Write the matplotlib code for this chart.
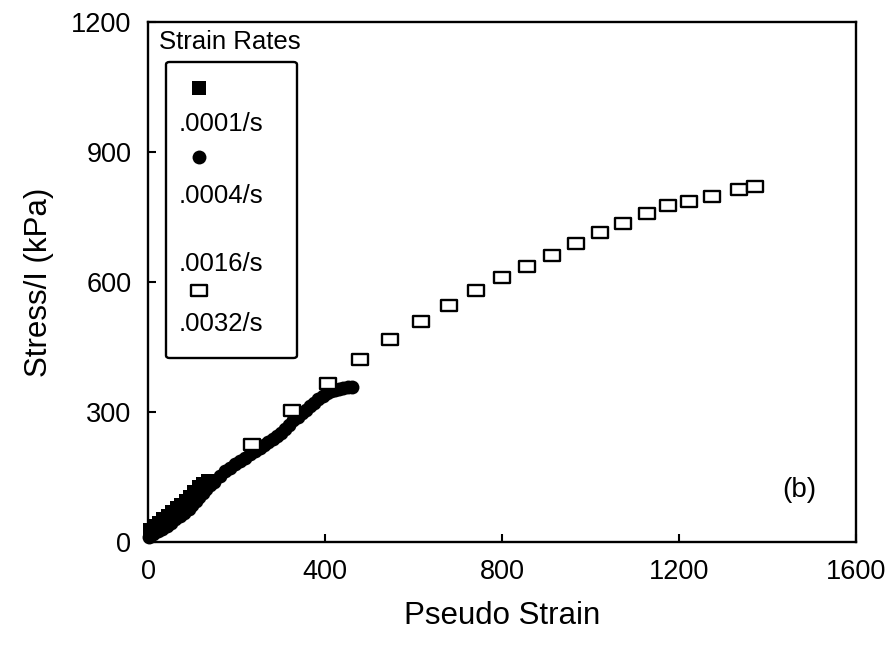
import matplotlib
matplotlib.use("Agg")
import matplotlib.pyplot as plt
from matplotlib.path import Path
from matplotlib.patches import FancyBboxPatch

plt.rcParams['font.family'] = ['Liberation Sans', 'DejaVu Sans']

# ---- data ----
rate_labels = [".0001/s", ".0004/s", ".0016/s", ".0032/s"]

x_0001 = [5, 15, 25, 35, 45, 55, 65, 75, 85, 95, 105, 115, 125, 135]
y_0001 = [28, 36, 44, 52, 60, 70, 78, 86, 95, 104, 115, 126, 134, 140]

x_0004 = [3, 12, 22, 32, 42, 52, 62, 72, 82, 92, 100, 108, 116, 124, 132, 140,
          150, 163, 175, 185, 197, 208, 219, 230, 241, 253, 263, 272, 282, 291,
          300, 310, 319, 328, 338, 347, 357, 366, 376, 385, 395, 404, 414, 423,
          432, 441, 451, 460]
y_0004 = [12, 18, 25, 31, 38, 45, 52, 60, 68, 77, 86, 95, 104, 113, 122, 132,
          138, 152, 163, 171, 179, 186, 195, 203, 210, 217, 224, 231, 238, 245,
          252, 260, 270, 281, 289, 297, 305, 313, 321, 329, 337, 343, 348, 351,
          353, 355, 357, 358]

x_0016 = []
y_0016 = []

x_0032 = [235, 325, 407, 479, 547, 617, 680, 741, 800, 856, 913, 967, 1021,
          1073, 1128, 1175, 1223, 1275, 1336, 1372]
y_0032 = [226, 305, 367, 422, 468, 510, 547, 582, 612, 637, 662, 690, 715,
          736, 759, 778, 787, 798, 815, 822]

x_ticks = [0, 400, 800, 1200, 1600]
y_ticks = [0, 300, 600, 900, 1200]

# ---- figure ----
fig = plt.figure(figsize=(8.94, 6.46), dpi=100)
ax = fig.add_axes([148/894, 1-542/646, 708/894, 520/646])

rect = Path([(-0.5, -0.36), (0.5, -0.36), (0.5, 0.36), (-0.5, 0.36), (-0.5, -0.36)],
            [Path.MOVETO, Path.LINETO, Path.LINETO, Path.LINETO, Path.CLOSEPOLY])

circ_style = dict(marker='o', markersize=10, color='black', markeredgewidth=0)
fsq_style = dict(marker='s', markersize=9.5, color='black', markeredgewidth=0)
osq_style = dict(marker=rect, markersize=11, markerfacecolor='white',
                 markeredgecolor='black', markeredgewidth=1.7)

ax.plot(x_0004, y_0004, linestyle='none', clip_on=False, **circ_style)
ax.plot(x_0001, y_0001, linestyle='none', clip_on=False, **fsq_style)
ax.plot(x_0016, y_0016, linestyle='none', marker='^', markersize=7,
        color='black')
ax.plot(x_0032, y_0032, linestyle='none', **osq_style)

ax.set_xlim(0, 1600)
ax.set_ylim(0, 1200)
ax.set_xticks(x_ticks)
ax.set_yticks(y_ticks)
ax.tick_params(direction='in', length=6, width=1.5, labelsize=19.5,
               top=False, right=False, pad=12)
for s in ax.spines.values():
    s.set_linewidth(1.7)

ax.set_xlabel("Pseudo Strain", fontsize=22.5, labelpad=12)
ax.set_ylabel("Stress/I (kPa)", fontsize=22.5, labelpad=12)

ax.text(0.92, 0.1, "(b)", transform=ax.transAxes, fontsize=20,
        ha='center', va='center')

# ---- legend (marker drawn above each label) ----
def axx(px):
    return (px - 148) / 708

def axy(py):
    return (542 - py) / 520

ax.text(axx(159), axy(42), "Strain Rates", transform=ax.transAxes,
        fontsize=18.5, ha='left', va='center')
box = FancyBboxPatch((axx(166), axy(358)), axx(297) - axx(166),
                     axy(62) - axy(358), boxstyle="round,pad=0,rounding_size=0.005",
                     transform=ax.transAxes, facecolor='white',
                     edgecolor='black', linewidth=1.7, zorder=5)
ax.add_patch(box)

leg_items = [
    (rate_labels[0], fsq_style, 88, 124),
    (rate_labels[1], circ_style, 157, 196),
    (rate_labels[2], None, None, 264),
    (rate_labels[3], osq_style, 290, 324),
]
for lab, mk, my, ty in leg_items:
    if mk is not None:
        ax.plot([axx(199)], [axy(my)], linestyle='none', transform=ax.transAxes,
                clip_on=False, zorder=6, **mk)
    ax.text(axx(179), axy(ty), lab, transform=ax.transAxes, fontsize=18.5,
            ha='left', va='center', zorder=6)

fig.savefig("out.png", dpi=100)
